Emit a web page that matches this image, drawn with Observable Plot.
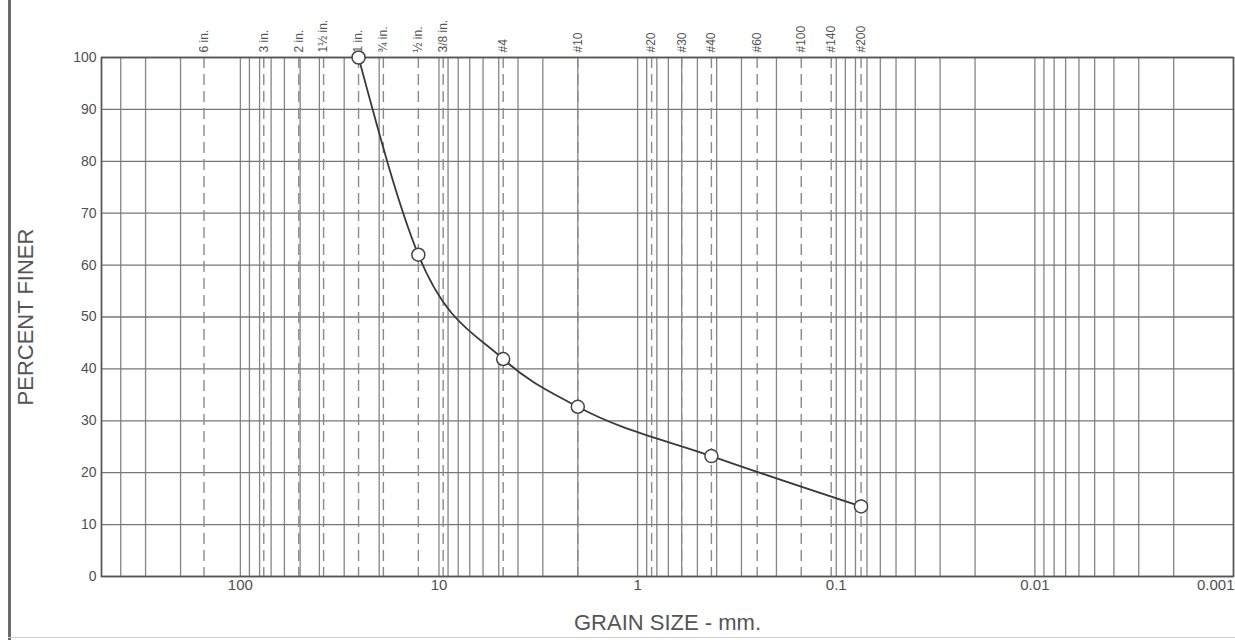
<!DOCTYPE html>
<html><head><meta charset="utf-8">
<script src="https://cdn.jsdelivr.net/npm/d3@7"></script>
<script src="https://cdn.jsdelivr.net/npm/@observablehq/plot@0.6"></script>
<style>
body{margin:0;background:#fff;}
#wrap{position:relative;width:1235px;height:640px;overflow:hidden;background:#fff;}
#wrap svg{position:absolute;left:0;top:0;}
#border{position:absolute;left:8px;top:0;width:3px;height:640px;background:#6a6a6a;z-index:2;}
#bottomline{position:absolute;left:8px;top:637px;width:1227px;height:1px;background:#cfcfcf;z-index:2;}
</style></head><body><div id="wrap"><div id="border"></div><div id="bottomline"></div></div>
<script>
// Data
const grainSize = [25.4, 12.7, 4.75, 2.0, 0.425, 0.075];
const percentFiner = [100, 62, 41.9, 32.7, 23.2, 13.5];

const sieveNames = ["6 in.","3 in.","2 in.","1½ in.","1 in.","¾ in.","½ in.","3/8 in.","#4","#10","#20","#30","#40","#60","#100","#140","#200"];
const sieveSizes = [152.4, 76.2, 50.8, 38.1, 25.4, 19.05, 12.7, 9.525, 4.75, 2.0, 0.85, 0.6, 0.425, 0.25, 0.15, 0.106, 0.075];

const xTickValues = [100, 10, 1, 0.1, 0.01];
const xTickLabels = ["100", "10", "1", "0.1", "0.01"];
const xLastTickValue = [0.001];
const xLastTickLabel = ["0.001"];
const yTickValues = [0, 10, 20, 30, 40, 50, 60, 70, 80, 90, 100];

const points = grainSize.map((g, i) => ({size: g, pct: percentFiner[i]}));
const sieves = sieveSizes.map((s, i) => ({size: s, name: sieveNames[i]}));
const minorGrid = d3.scaleLog().domain([0.001, 500]).ticks();

const chart = Plot.plot({
  width: 1235,
  height: 640,
  marginLeft: 101,
  marginRight: 2,
  marginTop: 57,
  marginBottom: 64,
  style: {fontFamily: "'Liberation Sans', Arial, sans-serif", color: "#505050", background: "transparent"},
  x: {type: "log", domain: [500, 0.001], axis: null},
  y: {domain: [0, 100], axis: null},
  marks: [
    Plot.gridX(minorGrid, {stroke: "#858585", strokeOpacity: 1, strokeWidth: 1.3}),
    Plot.gridY(yTickValues, {stroke: "#777", strokeOpacity: 1, strokeWidth: 1.3}),
    Plot.ruleX(sieves, {x: "size", stroke: "#8a8a8a", strokeWidth: 1.4, strokeDasharray: "11,6"}),
    Plot.frame({stroke: "#555", strokeWidth: 1.6}),
    Plot.text(sieves, {x: "size", text: "name", frameAnchor: "top", dy: -5, rotate: -90, textAnchor: "start", lineAnchor: "middle", fontSize: 12, fill: "#555", style: "letter-spacing:1.6px"}),
    Plot.text(yTickValues, {y: d => d, text: d => String(d), frameAnchor: "left", dx: -5, textAnchor: "end", fontSize: 14, fill: "#505050", style: "letter-spacing:1.8px"}),
    Plot.text(xTickValues, {x: d => d, text: (d, i) => xTickLabels[i], frameAnchor: "bottom", dy: 13, fontSize: 15, fill: "#505050", style: "letter-spacing:1.8px"}),
    Plot.text(xLastTickValue, {x: d => d, text: (d, i) => xLastTickLabel[i], frameAnchor: "bottom", dy: 13, dx: 1, textAnchor: "end", fontSize: 15, fill: "#505050", style: "letter-spacing:1.8px"}),
    Plot.text(["PERCENT FINER"], {frameAnchor: "left", dx: -76, rotate: -90, textAnchor: "middle", fontSize: 22, fill: "#555", style: "letter-spacing:1.3px"}),
    Plot.text(["GRAIN SIZE - mm."], {frameAnchor: "bottom", dy: 53, fontSize: 22, fill: "#555", style: "letter-spacing:1px"}),
    Plot.line(points, {x: "size", y: "pct", curve: "monotone-x", stroke: "#3a3a3a", strokeWidth: 1.8}),
    Plot.dot(points, {x: "size", y: "pct", r: 6.5, fill: "white", stroke: "#444", strokeWidth: 1.5})
  ]
});
document.getElementById("wrap").appendChild(chart);
</script>
</body></html>
